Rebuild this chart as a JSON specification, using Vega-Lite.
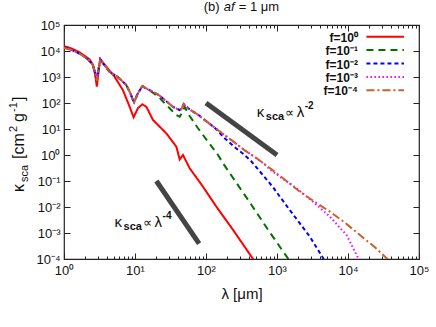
{
"$schema": "https://vega.github.io/schema/vega-lite/v6.json",
"width": 355, "height": 234,
"autosize": {"type": "none"},
"padding": {"left": 64, "top": 25, "right": 17, "bottom": 68},
"background": "white",
"config": {
  "view": {"stroke": "#222", "strokeWidth": 1.2},
  "axis": {"grid": false, "domain": false, "labelFont": "Liberation Sans", "titleFont": "Liberation Sans", "labelColor": "#111", "titleColor": "#111", "tickColor": "#222", "tickWidth": 1, "labelFontSize": 13, "titleFontSize": 15, "titleFontWeight": "normal"},
  "text": {"font": "Liberation Sans", "color": "#111"}
},
"layer": [
{
  "data": {"values": [
{"f":"0","x":1,"y":15500},{"f":"0","x":1.276,"y":12600},{"f":"0","x":1.654,"y":8910},{"f":"0","x":2.01,"y":6170},{"f":"0","x":2.29,"y":4790},{"f":"0","x":2.548,"y":3020},{"f":"0","x":2.737,"y":1260},{"f":"0","x":2.901,"y":427},{"f":"0","x":3.066,"y":1580},{"f":"0","x":3.241,"y":4790},{"f":"0","x":3.937,"y":2510},{"f":"0","x":5.156,"y":1020},{"f":"0","x":6.75,"y":316},{"f":"0","x":8.39,"y":72.4},{"f":"0","x":9.56,"y":28.2},{"f":"0","x":10.99,"y":63.1},{"f":"0","x":12.68,"y":89.1},{"f":"0","x":14.43,"y":72.4},{"f":"0","x":17.88,"y":22.4},{"f":"0","x":27.64,"y":6.76},{"f":"0","x":38.24,"y":2.09},{"f":"0","x":42.57,"y":0.676},{"f":"0","x":47.38,"y":1.0},{"f":"0","x":58.9,"y":0.309},{"f":"0","x":90.7,"y":0.0603},{"f":"0","x":140.2,"y":0.0102},{"f":"0","x":240.4,"y":0.00132},{"f":"0","x":460.2,"y":0.0001},{"f":"0","x":500,"y":0.00007},

{"f":"-1","x":1,"y":14100},{"f":"-1","x":1.276,"y":11200},{"f":"-1","x":1.654,"y":8000},{"f":"-1","x":2.01,"y":5620},{"f":"-1","x":2.29,"y":4170},{"f":"-1","x":2.548,"y":2820},{"f":"-1","x":2.737,"y":1580},{"f":"-1","x":2.901,"y":708},{"f":"-1","x":3.066,"y":2000},{"f":"-1","x":3.241,"y":4790},{"f":"-1","x":3.726,"y":2820},{"f":"-1","x":4.383,"y":1580},{"f":"-1","x":5.447,"y":1100},{"f":"-1","x":6.265,"y":794},{"f":"-1","x":7.54,"y":490},{"f":"-1","x":8.53,"y":251},{"f":"-1","x":9.34,"y":132},{"f":"-1","x":9.71,"y":107},{"f":"-1","x":10.88,"y":224},{"f":"-1","x":12.68,"y":447},{"f":"-1","x":14.58,"y":355},
{"f":"-1","x":17.88,"y":251},{"f":"-1","x":22.23,"y":158},{"f":"-1","x":26.16,"y":97.7},{"f":"-1","x":32.51,"y":53.7},{"f":"-1","x":37.38,"y":35.5},{"f":"-1","x":42.57,"y":29.5},{"f":"-1","x":45.42,"y":39.8},{"f":"-1","x":50.07,"y":70.8},{"f":"-1","x":58.9,"y":31.6},{"f":"-1","x":77.14,"y":10.7},{"f":"-1","x":106.7,"y":3.24},{"f":"-1","x":147.7,"y":1.0},{"f":"-1","x":173.7,"y":0.479},{"f":"-1","x":413.4,"y":0.0151},{"f":"-1","x":749,"y":0.00132},{"f":"-1","x":1420,"y":0.000107},{"f":"-1","x":1516,"y":0.0000708},

{"f":"-2","x":1,"y":13800},{"f":"-2","x":1.276,"y":11100},{"f":"-2","x":1.654,"y":7970},{"f":"-2","x":2.01,"y":5620},{"f":"-2","x":2.29,"y":4170},{"f":"-2","x":2.548,"y":2820},{"f":"-2","x":2.737,"y":1580},{"f":"-2","x":2.901,"y":708},{"f":"-2","x":3.066,"y":2000},{"f":"-2","x":3.241,"y":4790},{"f":"-2","x":3.726,"y":2820},{"f":"-2","x":4.383,"y":1580},{"f":"-2","x":5.447,"y":1100},{"f":"-2","x":6.265,"y":794},{"f":"-2","x":7.54,"y":490},{"f":"-2","x":8.53,"y":251},{"f":"-2","x":9.34,"y":132},{"f":"-2","x":9.71,"y":107},{"f":"-2","x":10.88,"y":224},{"f":"-2","x":12.68,"y":447},{"f":"-2","x":14.58,"y":355},
{"f":"-2","x":17.88,"y":269},{"f":"-2","x":22.23,"y":191},{"f":"-2","x":26.16,"y":132},{"f":"-2","x":34.24,"y":70.8},{"f":"-2","x":42.57,"y":53.7},{"f":"-2","x":45.42,"y":60.3},{"f":"-2","x":48.47,"y":91.2},{"f":"-2","x":58.9,"y":56.2},{"f":"-2","x":77.14,"y":35.5},{"f":"-2","x":90.7,"y":25.1},{"f":"-2","x":132.7,"y":11.2},
{"f":"-2","x":183.5,"y":4.37},{"f":"-2","x":254.1,"y":2.0},{"f":"-2","x":332.6,"y":1.12},{"f":"-2","x":436.9,"y":0.562},{"f":"-2","x":610.6,"y":0.19},{"f":"-2","x":881,"y":0.0575},{"f":"-2","x":1095,"y":0.0251},{"f":"-2","x":1516,"y":0.00759},{"f":"-2","x":2097,"y":0.00234},{"f":"-2","x":2901,"y":0.000724},{"f":"-2","x":4469,"y":0.000107},{"f":"-2","x":4722,"y":0.0000794},

{"f":"-3","x":1,"y":13500},{"f":"-3","x":1.276,"y":11000},{"f":"-3","x":1.654,"y":7950},{"f":"-3","x":2.01,"y":5620},{"f":"-3","x":2.29,"y":4170},{"f":"-3","x":2.548,"y":2820},{"f":"-3","x":2.737,"y":1580},{"f":"-3","x":2.901,"y":708},{"f":"-3","x":3.066,"y":2000},{"f":"-3","x":3.241,"y":4790},{"f":"-3","x":3.726,"y":2820},{"f":"-3","x":4.383,"y":1580},{"f":"-3","x":5.447,"y":1100},{"f":"-3","x":6.265,"y":794},{"f":"-3","x":7.54,"y":490},{"f":"-3","x":8.53,"y":251},{"f":"-3","x":9.34,"y":132},{"f":"-3","x":9.71,"y":107},{"f":"-3","x":10.88,"y":224},{"f":"-3","x":12.68,"y":447},{"f":"-3","x":14.58,"y":355},
{"f":"-3","x":17.88,"y":269},{"f":"-3","x":22.23,"y":191},{"f":"-3","x":26.16,"y":132},{"f":"-3","x":34.24,"y":70.8},{"f":"-3","x":42.57,"y":53.7},{"f":"-3","x":45.42,"y":60.3},{"f":"-3","x":48.47,"y":91.2},{"f":"-3","x":58.9,"y":56.2},{"f":"-3","x":77.14,"y":35.5},{"f":"-3","x":90.7,"y":25.1},{"f":"-3","x":132.7,"y":11.2},{"f":"-3","x":228.2,"y":3.72},{"f":"-3","x":351.5,"y":1.51},{"f":"-3","x":513.9,"y":0.759},
{"f":"-3","x":673.1,"y":0.427},{"f":"-3","x":791.5,"y":0.282},{"f":"-3","x":1095,"y":0.148},{"f":"-3","x":1884,"y":0.0525},{"f":"-3","x":3230,"y":0.0158},{"f":"-3","x":5555,"y":0.00427},{"f":"-3","x":9557,"y":0.000832},{"f":"-3","x":13930,"y":0.000107},{"f":"-3","x":14720,"y":0.0000708},

{"f":"-4","x":1,"y":13200},{"f":"-4","x":1.276,"y":10960},{"f":"-4","x":1.654,"y":7940},{"f":"-4","x":2.01,"y":5620},{"f":"-4","x":2.29,"y":4170},{"f":"-4","x":2.548,"y":2820},{"f":"-4","x":2.737,"y":1580},{"f":"-4","x":2.901,"y":708},{"f":"-4","x":3.066,"y":2000},{"f":"-4","x":3.241,"y":4790},{"f":"-4","x":3.726,"y":2820},{"f":"-4","x":4.383,"y":1580},{"f":"-4","x":5.447,"y":1100},{"f":"-4","x":6.265,"y":794},{"f":"-4","x":7.54,"y":490},{"f":"-4","x":8.53,"y":251},{"f":"-4","x":9.34,"y":132},{"f":"-4","x":9.71,"y":107},{"f":"-4","x":10.88,"y":224},{"f":"-4","x":12.68,"y":447},{"f":"-4","x":14.58,"y":355},
{"f":"-4","x":17.88,"y":269},{"f":"-4","x":22.23,"y":191},{"f":"-4","x":26.16,"y":132},{"f":"-4","x":34.24,"y":70.8},{"f":"-4","x":42.57,"y":53.7},{"f":"-4","x":45.42,"y":60.3},{"f":"-4","x":48.47,"y":91.2},{"f":"-4","x":58.9,"y":56.2},{"f":"-4","x":77.14,"y":35.5},{"f":"-4","x":90.7,"y":25.1},{"f":"-4","x":132.7,"y":11.2},{"f":"-4","x":228.2,"y":3.72},{"f":"-4","x":351.5,"y":1.51},{"f":"-4","x":513.9,"y":0.759},
{"f":"-4","x":791.5,"y":0.316},{"f":"-4","x":1516,"y":0.0794},{"f":"-4","x":2097,"y":0.0389},{"f":"-4","x":3413,"y":0.0158},{"f":"-4","x":5555,"y":0.00661},{"f":"-4","x":9044,"y":0.00251},{"f":"-4","x":14720,"y":0.000832},{"f":"-4","x":23960,"y":0.000282},{"f":"-4","x":35030,"y":0.000107},{"f":"-4","x":39000,"y":0.0000794}
  ]},
  "mark": {"type": "line", "clip": true, "strokeWidth": 2},
  "encoding": {
    "x": {"field": "x", "type": "quantitative", "scale": {"type": "log", "domain": [1, 100000], "nice": false},
      "axis": {"orient": "bottom", "values": [1,2,3,4,5,6,7,8,9,10,20,30,40,50,60,70,80,90,100,200,300,400,500,600,700,800,900,1000,2000,3000,4000,5000,6000,7000,8000,9000,10000,20000,30000,40000,50000,60000,70000,80000,90000,100000],
        "labelExpr": "abs(log(datum.value)/LN10 - round(log(datum.value)/LN10)) < 0.001 ? '10' + ['⁻⁴','⁻³','⁻²','⁻¹','⁰','¹','²','³','⁴','⁵'][round(log(datum.value)/LN10)+4] : ''",
        "tickSize": {"condition": {"test": "abs(log(datum.value)/LN10 - round(log(datum.value)/LN10)) < 0.001", "value": -6}, "value": -3},
        "labelPadding": 11, "labelFlush": false, "labelOverlap": false, "title": "λ [μm]", "titlePadding": 6}},
    "y": {"field": "y", "type": "quantitative", "scale": {"type": "log", "domain": [0.0001, 100000], "nice": false},
      "axis": {"orient": "left", "values": [0.0001,0.001,0.01,0.1,1,10,100,1000,10000,100000],
        "labelExpr": "'10' + ['⁻⁴','⁻³','⁻²','⁻¹','⁰','¹','²','³','⁴','⁵'][round(log(datum.value)/LN10)+4]",
        "tickSize": -6, "labelPadding": 10, "labelFlush": false, "labelOverlap": false, "title": null}},
    "color": {"field": "f", "type": "nominal", "scale": {"domain": ["0","-1","-2","-3","-4"], "range": ["#ff0000","#007000","#0000ff","#ff00ff","#c8602a"]}, "legend": null},
    "strokeDash": {"field": "f", "type": "nominal", "scale": {"domain": ["0","-1","-2","-3","-4"], "range": [[1,0],[7,5],[4,3],[1.5,2.5],[8,3,2,3]]}, "legend": null}
  }
},
{
  "data": {"values": [{"x":100,"y":100,"x2":1000,"y2":1},{"x":20,"y":0.1,"x2":80,"y2":0.00039}]},
  "mark": {"type": "rule", "strokeWidth": 5, "color": "#444", "strokeCap": "butt"},
  "encoding": {
    "x": {"field": "x", "type": "quantitative", "scale": {"type": "log", "domain": [1, 100000], "nice": false},
      "axis": {"orient": "top", "values": [1,2,3,4,5,6,7,8,9,10,20,30,40,50,60,70,80,90,100,200,300,400,500,600,700,800,900,1000,2000,3000,4000,5000,6000,7000,8000,9000,10000,20000,30000,40000,50000,60000,70000,80000,90000,100000],
        "labels": false, "title": null,
        "tickSize": {"condition": {"test": "abs(log(datum.value)/LN10 - round(log(datum.value)/LN10)) < 0.001", "value": -6}, "value": -3}}},
    "x2": {"field": "x2"},
    "y": {"field": "y", "type": "quantitative", "scale": {"type": "log", "domain": [0.0001, 100000], "nice": false},
      "axis": {"orient": "right", "values": [0.0001,0.001,0.01,0.1,1,10,100,1000,10000,100000], "labels": false, "title": null, "tickSize": -6}},
    "y2": {"field": "y2"}
  }
},
{
  "data": {"values": [
    {"f":"0","y":35480,"lx":13790,"l1":18180,"l2":61430,"t":"f=10⁰"},
    {"f":"-1","y":10840,"lx":13790,"l1":18180,"l2":61430,"t":"f=10⁻¹"},
    {"f":"-2","y":3304,"lx":13790,"l1":18180,"l2":61430,"t":"f=10⁻²"},
    {"f":"-3","y":1009,"lx":13790,"l1":18180,"l2":61430,"t":"f=10⁻³"},
    {"f":"-4","y":307.6,"lx":13790,"l1":18180,"l2":61430,"t":"f=10⁻⁴"}
  ]},
  "layer": [
    {
      "mark": {"type": "rule", "strokeWidth": 2},
      "encoding": {
        "x": {"field": "l1", "type": "quantitative", "scale": {"type": "log", "domain": [1, 100000], "nice": false}, "axis": null},
        "x2": {"field": "l2"},
        "y": {"field": "y", "type": "quantitative", "scale": {"type": "log", "domain": [0.0001, 100000], "nice": false}, "axis": null},
        "color": {"field": "f", "type": "nominal", "scale": {"domain": ["0","-1","-2","-3","-4"], "range": ["#ff0000","#007000","#0000ff","#ff00ff","#c8602a"]}, "legend": null},
        "strokeDash": {"field": "f", "type": "nominal", "scale": {"domain": ["0","-1","-2","-3","-4"], "range": [[1,0],[7,5],[4,3],[1.5,2.5],[8,3,2,3]]}, "legend": null}
      }
    },
    {
      "mark": {"type": "text", "align": "right", "baseline": "middle", "fontWeight": "bold", "fontSize": 12, "dy": 1},
      "encoding": {
        "x": {"field": "lx", "type": "quantitative", "scale": {"type": "log", "domain": [1, 100000], "nice": false}, "axis": null},
        "y": {"field": "y", "type": "quantitative", "scale": {"type": "log", "domain": [0.0001, 100000], "nice": false}, "axis": null},
        "text": {"field": "t"}
      }
    }
  ]
},
{
  "data": {"values": [{"x":519,"y":28.9,"e":"-2"},{"x":5.156,"y":0.001745,"e":"-4"}]},
  "encoding": {
    "x": {"field": "x", "type": "quantitative", "scale": {"type": "log", "domain": [1, 100000], "nice": false}, "axis": null},
    "y": {"field": "y", "type": "quantitative", "scale": {"type": "log", "domain": [0.0001, 100000], "nice": false}, "axis": null}
  },
  "layer": [
    {"mark": {"type": "text", "align": "left", "baseline": "alphabetic", "fontSize": 15, "text": "κ"}},
    {"mark": {"type": "text", "align": "left", "baseline": "alphabetic", "fontSize": 11, "fontWeight": "bold", "text": "sca", "dx": 9, "dy": 3}},
    {"mark": {"type": "text", "align": "left", "baseline": "alphabetic", "fontSize": 13, "text": "∝", "dx": 28}},
    {"mark": {"type": "text", "align": "left", "baseline": "alphabetic", "fontSize": 15, "text": "λ", "dx": 40}},
    {"mark": {"type": "text", "align": "left", "baseline": "alphabetic", "fontSize": 10, "fontWeight": "bold", "dx": 48, "dy": -8}, "encoding": {"text": {"field": "e"}}}
  ]
},
{
  "data": {"values": [{"x":0.2773,"y":0.03776}]},
  "encoding": {
    "x": {"field": "x", "type": "quantitative", "scale": {"type": "log", "domain": [1, 100000], "nice": false}, "axis": null},
    "y": {"field": "y", "type": "quantitative", "scale": {"type": "log", "domain": [0.0001, 100000], "nice": false}, "axis": null}
  },
  "layer": [
    {"mark": {"type": "text", "angle": 270, "align": "left", "baseline": "alphabetic", "fontSize": 16, "text": "κ"}},
    {"mark": {"type": "text", "angle": 270, "align": "left", "baseline": "alphabetic", "fontSize": 11, "text": "sca", "dx": 10, "dy": 4}},
    {"mark": {"type": "text", "angle": 270, "align": "left", "baseline": "alphabetic", "fontSize": 16, "text": "[cm", "dx": 33}},
    {"mark": {"type": "text", "angle": 270, "align": "left", "baseline": "alphabetic", "fontSize": 11, "text": "2", "dx": 60, "dy": -7}},
    {"mark": {"type": "text", "angle": 270, "align": "left", "baseline": "alphabetic", "fontSize": 16, "text": "g", "dx": 70}},
    {"mark": {"type": "text", "angle": 270, "align": "left", "baseline": "alphabetic", "fontSize": 11, "text": "-1", "dx": 80, "dy": -7}},
    {"mark": {"type": "text", "angle": 270, "align": "left", "baseline": "alphabetic", "fontSize": 16, "text": "]", "dx": 91}}
  ]
},
{
  "data": {"values": [{"x":92.8,"y":345000}]},
  "encoding": {
    "x": {"field": "x", "type": "quantitative", "scale": {"type": "log", "domain": [1, 100000], "nice": false}, "axis": null},
    "y": {"field": "y", "type": "quantitative", "scale": {"type": "log", "domain": [0.0001, 100000], "nice": false}, "axis": null}
  },
  "layer": [
    {"mark": {"type": "text", "align": "left", "baseline": "alphabetic", "fontSize": 13, "text": "(b)"}},
    {"mark": {"type": "text", "align": "left", "baseline": "alphabetic", "fontSize": 13, "fontStyle": "italic", "text": "af", "dx": 20}},
    {"mark": {"type": "text", "align": "left", "baseline": "alphabetic", "fontSize": 13, "text": "= 1 μm", "dx": 35}}
  ]
}
],
"resolve": {"axis": {"x": "independent", "y": "independent"}}
}
